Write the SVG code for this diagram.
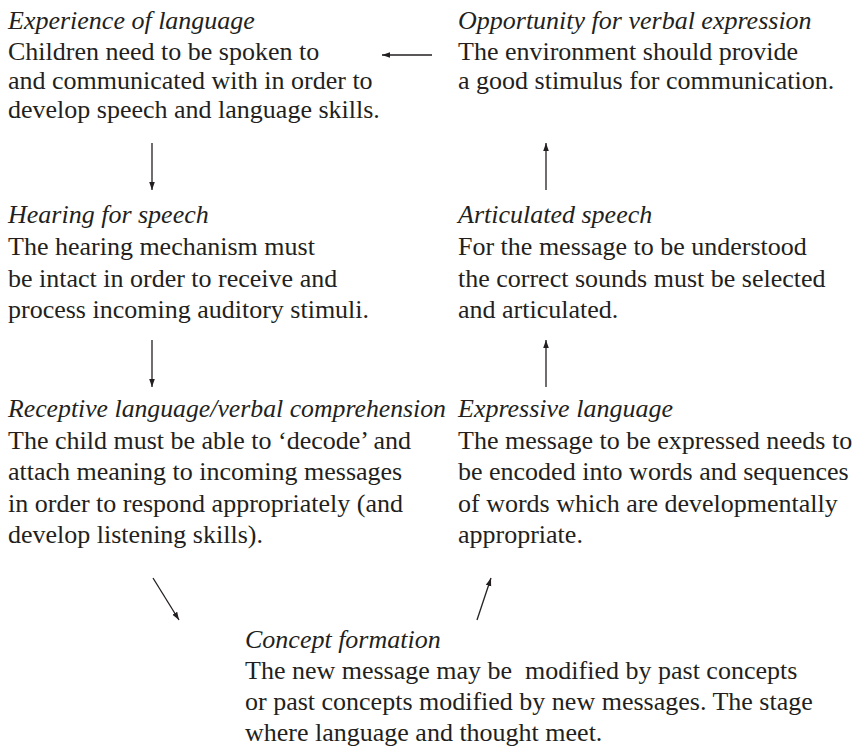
<svg xmlns="http://www.w3.org/2000/svg" width="857" height="749" viewBox="0 0 857 749">
<style>
text { font-family: "Liberation Serif", "Times New Roman", serif; font-size: 26px; fill: #231f20; }
.h { font-style: italic; }
.c { stroke: #231f20; stroke-width: 1.3; fill: none; }
</style>
<defs>
<marker id="ah" viewBox="0 0 10 10" refX="10" refY="5" markerWidth="8" markerHeight="8" markerUnits="userSpaceOnUse" orient="auto">
<path d="M0,1.5 L10,5 L0,8.5 Z" fill="#231f20"/>
</marker>
</defs>
<rect width="857" height="749" fill="#ffffff"/>
<g id="experience">
<text class="h" x="8" y="29">Experience of language</text>
<text x="8" y="60">Children need to be spoken to</text>
<text x="8" y="89">and communicated with in order to</text>
<text x="8" y="118">develop speech and language skills.</text>
</g>
<g id="opportunity">
<text class="h" x="458" y="29">Opportunity for verbal expression</text>
<text x="458" y="60">The environment should provide</text>
<text x="458" y="89">a good stimulus for communication.</text>
</g>
<g id="hearing">
<text class="h" x="8" y="223">Hearing for speech</text>
<text x="8" y="255">The hearing mechanism must</text>
<text x="8" y="287">be intact in order to receive and</text>
<text x="8" y="318">process incoming auditory stimuli.</text>
</g>
<g id="articulated">
<text class="h" x="458" y="223">Articulated speech</text>
<text x="458" y="255">For the message to be understood</text>
<text x="458" y="287">the correct sounds must be selected</text>
<text x="458" y="318">and articulated.</text>
</g>
<g id="receptive">
<text class="h" x="8" y="417" textLength="438" lengthAdjust="spacingAndGlyphs">Receptive language/verbal comprehension</text>
<text x="8" y="449">The child must be able to ‘decode’ and</text>
<text x="8" y="480">attach meaning to incoming messages</text>
<text x="8" y="512">in order to respond appropriately (and</text>
<text x="8" y="543">develop listening skills).</text>
</g>
<g id="expressive">
<text class="h" x="458" y="417">Expressive language</text>
<text x="458" y="449">The message to be expressed needs to</text>
<text x="458" y="480">be encoded into words and sequences</text>
<text x="458" y="512">of words which are developmentally</text>
<text x="458" y="543">appropriate.</text>
</g>
<g id="concept">
<text class="h" x="245" y="648">Concept formation</text>
<text x="245" y="679" xml:space="preserve">The new message may be  modified by past concepts</text>
<text x="245" y="710">or past concepts modified by new messages. The stage</text>
<text x="245" y="741">where language and thought meet.</text>
</g>
<g id="connectors">
<line class="c" x1="432" y1="55" x2="382" y2="55" marker-end="url(#ah)"/>
<line class="c" x1="152" y1="143" x2="152" y2="190" marker-end="url(#ah)"/>
<line class="c" x1="152" y1="340" x2="152" y2="387" marker-end="url(#ah)"/>
<line class="c" x1="546" y1="190" x2="546" y2="143" marker-end="url(#ah)"/>
<line class="c" x1="546" y1="387" x2="546" y2="340" marker-end="url(#ah)"/>
<line class="c" x1="153" y1="578" x2="179" y2="620" marker-end="url(#ah)"/>
<line class="c" x1="477" y1="620" x2="491" y2="578" marker-end="url(#ah)"/>
</g>
</svg>
